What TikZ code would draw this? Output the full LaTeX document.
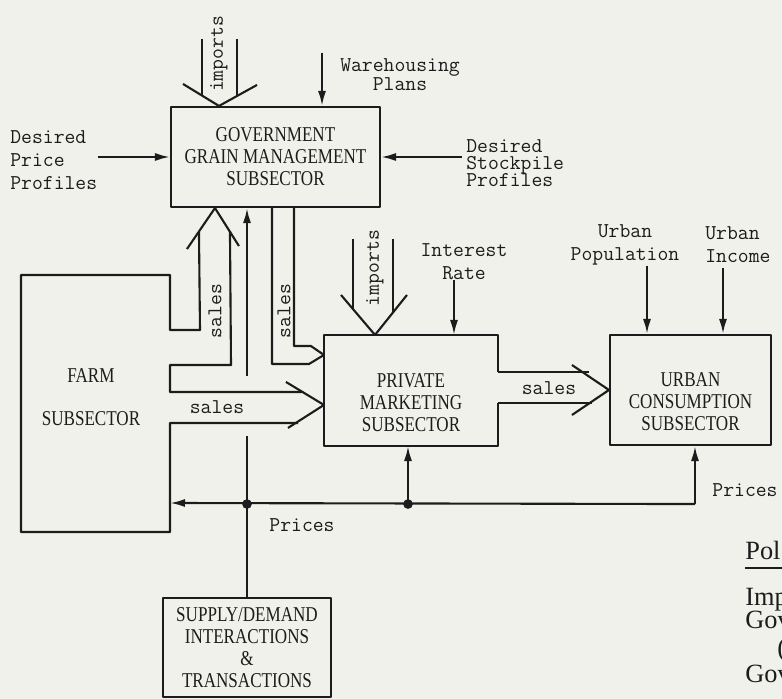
\documentclass[tikz,border=0pt]{standalone}
\usepackage{fontspec}
\newfontfamily\boxfont[FakeStretch=0.81]{Liberation Serif}
\newfontfamily\notefont{Liberation Serif}
\usetikzlibrary{arrows.meta}
\usetikzlibrary{positioning}
\usetikzlibrary{calc}
\definecolor{paper}{RGB}{241,241,235}
\definecolor{ink}{RGB}{28,28,28}
\newcommand{\tightlines}{\lineskiplimit=-20pt\relax}
\tikzset{
	>={Latex[length=3mm, width=1.6mm]},
	box/.style={draw=ink, line width=1.2pt, inner sep=0pt, align=center, text=ink,
		font=\boxfont\fontsize{12}{12.5}\selectfont},
	boxtxt/.style={inner sep=0pt, align=center, text=ink,
		font=\boxfont\fontsize{12}{12.5}\selectfont},
	lab/.style={inner sep=0pt, align=left, text=ink,
		font=\ttfamily\fontsize{12}{13}\selectfont},
	note/.style={inner sep=0pt, text=ink, font=\notefont\fontsize{15}{17}\selectfont},
	flow/.style={draw=ink, line width=1.2pt},
	arrowF/.style={->, draw=ink, line width=1.2pt},
	dot/.style={circle, fill=ink, inner sep=0pt, minimum size=5.5pt},
}

\begin{document}
\begin{tikzpicture}[x=0.02cm, y=-0.02cm, line join=round]
	
	% --- page
	\useasboundingbox (0,0) rectangle (782,699);
	\fill[paper] (0,0) rectangle (782,699);
	\clip (0,0) rectangle (782,699);
	
	% --- subsectors
	\node[box, minimum width=4.18cm, minimum height=2cm] (gov) at (275.5,157)
		{GOVERNMENT\\GRAIN MANAGEMENT\\SUBSECTOR};
	\node[box, draw=none, minimum width=3.44cm, minimum height=2.18cm] (priv) at (411,390.5) {};
	\node[boxtxt] (privtxt) at ([yshift=-0.25cm]priv.center) {PRIVATE\\MARKETING\\SUBSECTOR};
	\node[box, minimum width=3.22cm, minimum height=2.2cm] (urban) at (690.5,390) {};
	\node[boxtxt] (urbantxt) at ([yshift=-0.24cm]urban.center) {URBAN\\CONSUMPTION\\SUBSECTOR};
	\node[box, minimum width=3.36cm, minimum height=1.98cm] (sd) at (247,647.5)
		{SUPPLY/DEMAND\\INTERACTIONS\\\&\\TRANSACTIONS};
	\node[boxtxt] (farm) at (91,397) {FARM\\[12pt]SUBSECTOR};
	
	% private box, open on the right for the sales arrow
	\draw[flow] ([yshift=-0.74cm]priv.north east) -- (priv.north east) -- (priv.north west)
		-- (priv.south west) -- (priv.south east) -- ([yshift=0.86cm]priv.south east);
	
	% --- exogenous inputs
	\node[lab, anchor=west] (dpp) at (10,160) {Desired\\Price\\Profiles};
	\node[lab, anchor=west, font=\ttfamily\fontsize{12}{9.8}\selectfont\tightlines]
		(dsp) at (466,163) {Desired\\Stockpile\\Profiles};
	\node[lab, align=center, font=\ttfamily\fontsize{12}{10.8}\selectfont] (wh) at (400,75) {Warehousing\\Plans};
	\node[lab, align=center] (intr) at (464,262) {Interest\\Rate};
	\node[lab, align=center] (upop) at (625,245) {Urban\\Population};
	\node[lab, anchor=west] (uinc) at (705,245) {Urban\\Income};
	
	\draw[arrowF] (dpp.east |- gov.west) -- (gov.west);
	\draw[arrowF] ([xshift=-0.08cm]dsp.west |- gov.east) -- (gov.east);
	\draw[arrowF] ([xshift=-1.56cm, yshift=0.12cm]wh.north) -- ([xshift=-1.56cm]wh.north |- gov.north);
	\draw[arrowF] ([xshift=-0.2cm]intr.south) -- ([xshift=-0.2cm]intr.south |- priv.north);
	\draw[arrowF] ([xshift=0.44cm]upop.south) -- ([xshift=0.44cm]upop.south |- urban.north);
	\draw[arrowF] ([xshift=0.36cm, yshift=-0.1cm]uinc.south west) -- ([xshift=0.36cm]uinc.south west |- urban.north);
	
	% --- imports
	\node[lab, rotate=90] (im1) at (219,54) {imports};
	\node[lab, rotate=90] (im2) at (375,268) {imports};
	\coordinate (imA) at (im1 |- gov.north);
	\draw[flow] ($(imA)+(-17,-67)$) -- ++(0,57);
	\draw[flow] ($(imA)+(18,-67)$) -- ++(0,57);
	\draw[flow] ($(imA)+(-36,-22)$) -- (imA) -- ($(imA)+(38,-21)$);
	\coordinate (imB) at (im2 |- priv.north);
	\draw[flow] ($(imB)+(-22,-96)$) -- ++(0,70);
	\draw[flow] ($(imB)+(18,-96)$) -- ++(0,73);
	\draw[flow] ($(imB)+(-34,-40)$) -- (imB) -- ($(imB)+(32,-40)$);
	
	% --- farm subsector and its sales
	\coordinate (upA) at ($(gov.south west)+(45,0)$);
	\coordinate (salA) at ($(priv.north west)+(0,70)$);
	\draw[flow] ($(upA)+(-16,24)$) -- (200,330) -- (170,330) -- (170,275) -- (21,275)
		-- (21,532) -- (170,532) -- (170,423) -- (298,423);
	\draw[flow] ($(upA)+(15,23)$) -- (231,365) -- (170,365) -- (170,392) -- (302,392);
	\draw[flow] ($(upA)+(-28,41)$) -- (upA) -- ($(upA)+(24,38)$);
	\draw[flow] ($(salA)+(-38,-23)$) -- (salA) -- ($(salA)+(-36,23)$);
	\node[lab, rotate=90] (s1) at (215,311) {sales};
	\node[lab] (s3) at (217,407) {sales};
	
	% government sales to private marketing
	\coordinate (tapA) at ($(priv.north west)+(0,20)$);
	\draw[flow] ($(gov.south west)+(102,0)$) -- ++(0,156) -- ++(37,0) -- (tapA);
	\draw[flow] ($(gov.south west)+(124,0)$) -- ++(0,138) -- ++(17,0) -- (tapA);
	\node[lab, rotate=90] (s2) at (284,311) {sales};
	
	% private sales to urban
	\draw[flow] ([yshift=-0.74cm]priv.north east) -- ++(91,0);
	\draw[flow] ([yshift=0.86cm]priv.south east) -- ++(94,0);
	\draw[flow] ($(urban.west)+(-37,-25)$) -- (urban.west) -- ($(urban.west)+(-37,25)$);
	\node[lab] (s4) at (549,388) {sales};
	
	% --- prices
	\coordinate (busR) at ($(urban.south)+(4.5,58)$);
	\coordinate (farmE) at (170,503);
	\coordinate (pUp) at ($(sd.north)+(0,-221)$);
	\node[dot] (jA) at (sd.north |- busR) {};
	\node[dot] (jB) at ($(priv.south)+(-3,58)$) {};
	\draw[arrowF] (busR) -- (farmE);
	\draw[arrowF] (busR) -- (urban.south -| busR);
	\draw[arrowF] (jB.center) -- (jB.center |- priv.south);
	\draw[flow] (sd.north) -- ++(0,-161);
	\draw[arrowF] (pUp) -- (pUp |- gov.south);
	\node[lab] (pr1) at (302,525) {Prices};
	\node[lab] (pr2) at (745,490) {Prices};
	
	% --- policy list (runs off the page)
	\node[note, anchor=base west] (pol) at (745,560) {Pol};
	\draw[flow, line width=0.9pt] ([yshift=-0.16cm]pol.base west) -- ++(60,0);
	\node[note, anchor=base west] (imp) at (745,605) {Imp};
	\node[note, anchor=base west] (gov2) at (745,628) {Gov};
	\node[note, anchor=base west] (paren) at (777,657) {(};
	\node[note, anchor=base west] (gov3) at (745,683) {Gov};
	
\end{tikzpicture}
\end{document}
